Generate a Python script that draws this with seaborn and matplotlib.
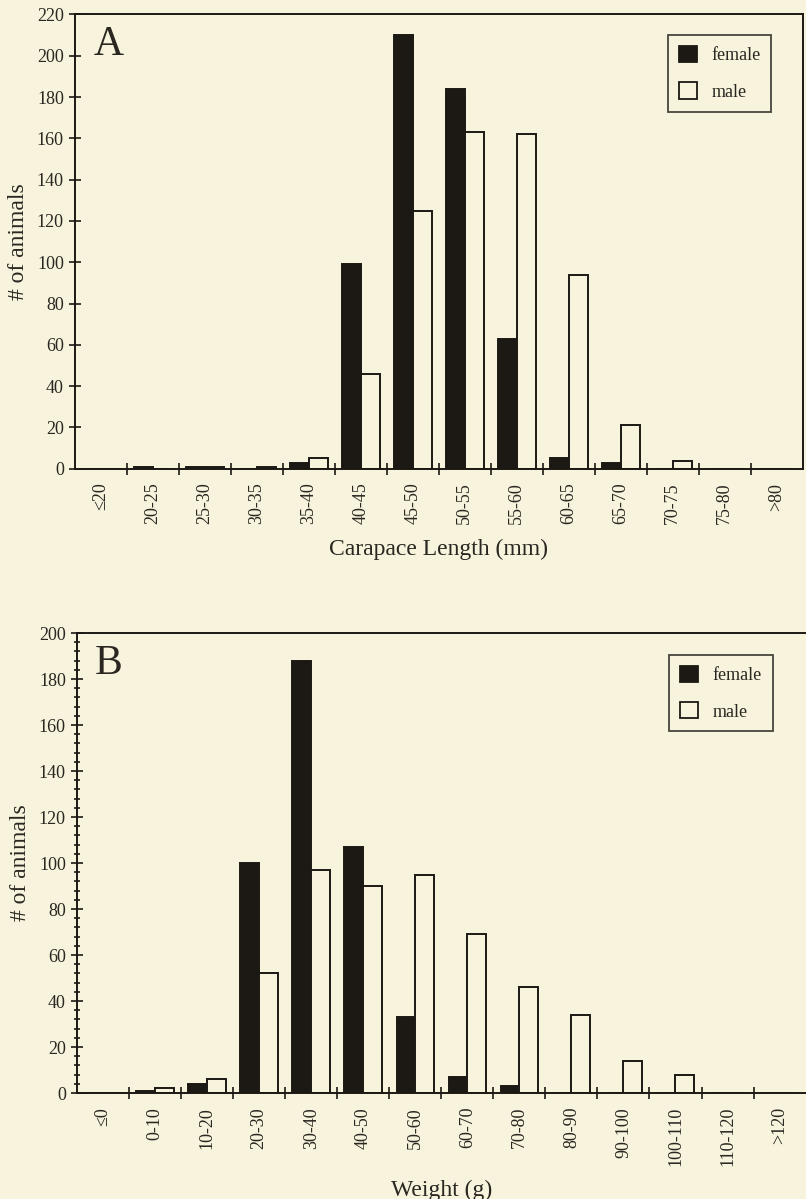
import numpy as np
import pandas as pd
import matplotlib
matplotlib.use('Agg')
import matplotlib.pyplot as plt
import seaborn as sns
from matplotlib.patches import Patch
from matplotlib.ticker import MultipleLocator

# panel A: carapace length
length_bins = ['≤20', '20-25', '25-30', '30-35', '35-40', '40-45', '45-50',
               '50-55', '55-60', '60-65', '65-70', '70-75', '75-80', '>80']
length_female = [0, 1, 1, 0, 3, 99, 210, 184, 63, 5, 3, 0, 0, 0]
length_male = [0, 0, 1, 1, 5, 46, 125, 163, 162, 94, 21, 4, 0, 0]

# panel B: weight
weight_bins = ['≤0', '0-10', '10-20', '20-30', '30-40', '40-50', '50-60',
               '60-70', '70-80', '80-90', '90-100', '100-110', '110-120', '>120']
weight_female = [0, 1, 4, 100, 188, 107, 33, 7, 3, 0, 0, 0, 0, 0]
weight_male = [0, 2, 6, 52, 97, 90, 95, 69, 46, 34, 14, 8, 0, 0]

BG = '#f8f3dd'
INK = '#1c1914'
TXT = '#2b2620'

sns.set_theme(style='white')
plt.rcParams['font.family'] = ['Liberation Serif', 'DejaVu Serif']
plt.rcParams['text.color'] = TXT
plt.rcParams['axes.labelcolor'] = TXT
plt.rcParams['xtick.color'] = TXT
plt.rcParams['ytick.color'] = TXT


def make_df(bins, female, male):
    return pd.DataFrame({
        'bin': bins * 2,
        'sex': ['female'] * len(bins) + ['male'] * len(bins),
        'count': female + male,
    })


def draw_panel(ax, df, bins, ymax, letter, xlabel, minor_y, legend_anchor):
    ax.set_facecolor(BG)
    sns.barplot(data=df, x='bin', y='count', hue='sex', order=bins,
                hue_order=['female', 'male'],
                palette={'female': INK, 'male': BG},
                edgecolor=INK, linewidth=1.4, width=0.72, saturation=1,
                ax=ax, legend=False)
    n = len(bins)
    ax.set_xlim(-0.5, n - 0.5)
    ax.set_ylim(0, ymax)
    ax.set_xticks(range(n))
    ax.set_xticklabels(bins, rotation=90, fontsize=13)
    ax.tick_params(axis='x', which='major', length=0, pad=10)
    ax.set_xticks(np.arange(0.5, n - 1), minor=True)
    ax.tick_params(axis='x', which='minor', length=9, width=1.2,
                   direction='inout', color=INK, bottom=True)
    ax.yaxis.set_major_locator(MultipleLocator(20))
    ax.tick_params(axis='y', which='major', length=9, width=1.2,
                   direction='inout', labelsize=13, color=INK, left=True)
    if minor_y:
        ax.yaxis.set_minor_locator(MultipleLocator(4))
        ax.tick_params(axis='y', which='minor', length=5, width=1.2,
                       direction='inout', color=INK, left=True)
    for s in ax.spines.values():
        s.set_color(INK)
        s.set_linewidth(1.4)
    ax.set_xlabel(xlabel, fontsize=17, labelpad=10)
    ax.set_ylabel('# of animals', fontsize=17, labelpad=6)
    ax.text(0.025, 0.975, letter, transform=ax.transAxes, fontsize=30,
            va='top', ha='left', color=TXT)
    handles = [Patch(facecolor=INK, edgecolor=INK, linewidth=1.3, label='female'),
               Patch(facecolor=BG, edgecolor=INK, linewidth=1.3, label='male')]
    leg = ax.legend(handles=handles, loc='upper right', bbox_to_anchor=legend_anchor,
                    borderaxespad=0, fontsize=13, frameon=True, fancybox=False,
                    handlelength=1.0, handleheight=1.0, handletextpad=0.8,
                    borderpad=0.6, labelspacing=1.0)
    leg.get_frame().set_edgecolor(INK)
    leg.get_frame().set_facecolor(BG)
    leg.get_frame().set_linewidth(1.3)


fig = plt.figure(figsize=(8.06, 11.99), dpi=100)
fig.patch.set_facecolor(BG)

ax_a = fig.add_axes([0.093, 0.609, 0.903, 0.379])
draw_panel(ax_a, make_df(length_bins, length_female, length_male), length_bins,
           220, 'A', 'Carapace Length (mm)', False, (0.957, 0.954))

ax_b = fig.add_axes([0.0955, 0.0884, 0.904, 0.3836])
draw_panel(ax_b, make_df(weight_bins, weight_female, weight_male), weight_bins,
           200, 'B', 'Weight (g)', True, (0.955, 0.952))
ax_b.spines['right'].set_visible(False)

fig.savefig('out.png', dpi=100, facecolor=BG)
